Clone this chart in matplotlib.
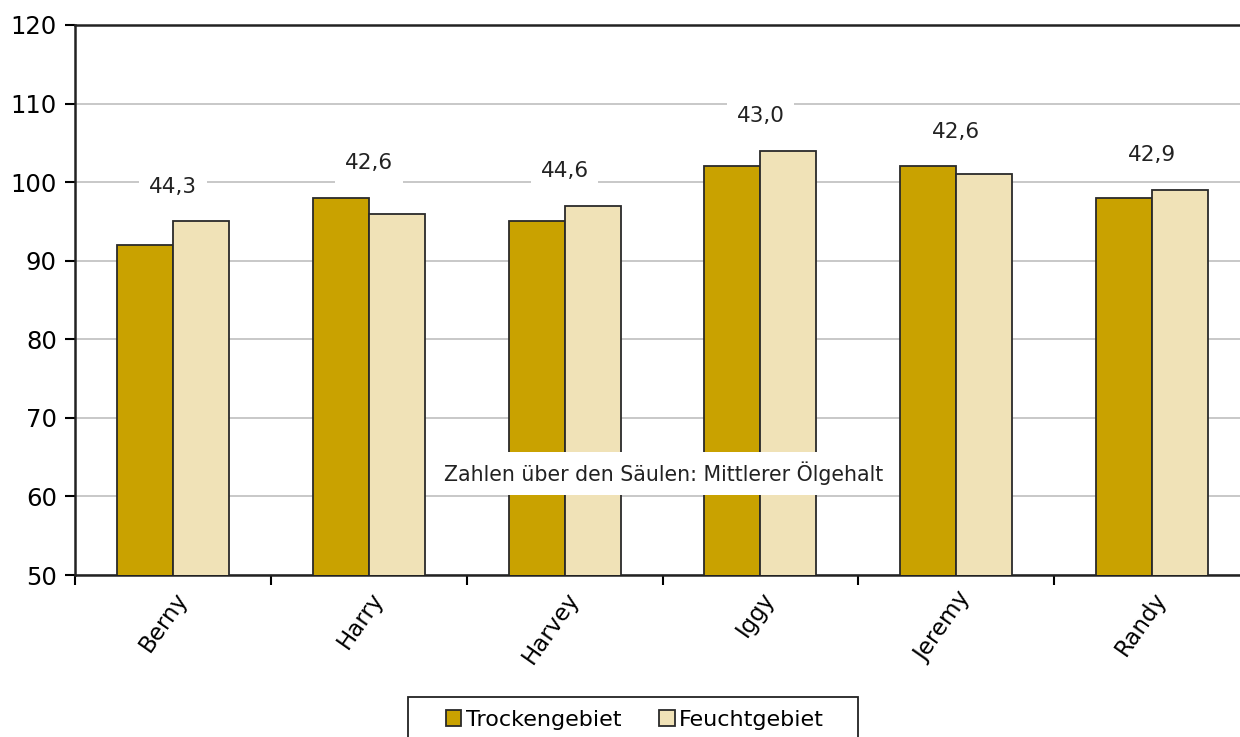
import numpy as np
import matplotlib.pyplot as plt
from matplotlib.patches import Rectangle

# data
sorten = ['Berny', 'Harry', 'Harvey', 'Iggy', 'Jeremy', 'Randy']
trocken = [92, 98, 95, 102, 102, 98]
feucht = [95, 96, 97, 104, 101, 99]
oelgehalt = ['44,3', '42,6', '44,6', '43,0', '42,6', '42,9']

c_trocken = '#C9A200'
c_feucht = '#F0E2B7'

plt.rcParams['font.family'] = 'DejaVu Sans'
fig = plt.figure(figsize=(12.4, 7.37), dpi=100)
ax = fig.add_axes([0.0605, 0.2198, 0.9476, 0.7463])

x = np.arange(len(sorten))
w = 0.286
ax.bar(x - w/2, trocken, w, color=c_trocken, edgecolor='#2a2a2a', linewidth=1.3,
       label='Trockengebiet', zorder=3)
ax.bar(x + w/2, feucht, w, color=c_feucht, edgecolor='#2a2a2a', linewidth=1.3,
       label='Feuchtgebiet', zorder=3)

# numbers above the columns
for i in range(len(sorten)):
    top = max(trocken[i], feucht[i])
    ax.text(x[i], top + 4.4, oelgehalt[i], ha='center', va='center', fontsize=15.5,
            color='#222222', zorder=4,
            bbox=dict(facecolor='white', edgecolor='none', pad=7))

ax.text(0.501, 0.185, 'Zahlen über den Säulen: Mittlerer Ölgehalt',
        transform=ax.transAxes, ha='center', va='center', fontsize=14.8,
        color='#222222', zorder=4,
        bbox=dict(facecolor='white', edgecolor='none', pad=7))

ax.set_xlim(-0.5, len(sorten) - 0.5)
ax.set_ylim(50, 120)
ax.set_yticks(range(50, 121, 10))
ax.yaxis.grid(True, color='#c8c8c8', linewidth=1.4, zorder=0)
ax.set_axisbelow(True)

ax.set_xticks(x)
ax.set_xticklabels(sorten, rotation=55, ha='right', rotation_mode='anchor', fontsize=16.5)
ax.tick_params(axis='x', which='major', length=0, pad=9)
ax.set_xticks(np.arange(-0.5, len(sorten), 1), minor=True)
ax.tick_params(axis='x', which='minor', length=7, width=1.5, direction='out')
ax.tick_params(axis='y', length=7, width=1.5, direction='out', labelsize=17.5, pad=6)

for s in ax.spines.values():
    s.set_linewidth(1.8)
    s.set_color('#222222')

# legend box, wider than the entries as in the original
fig.patches.append(Rectangle((408/1240, -0.01), 450/1240, 1 - 697/737 + 0.01,
                             transform=fig.transFigure, facecolor='white',
                             edgecolor='#222222', linewidth=1.3, zorder=1))
fig.legend(loc='center', bbox_to_anchor=(0.512, 1 - 720/737), ncol=2, fontsize=16,
           frameon=False, handlelength=0.7, handleheight=0.7, handletextpad=0.2,
           columnspacing=1.7, borderpad=0, borderaxespad=0)

fig.savefig('out.png', dpi=100)
